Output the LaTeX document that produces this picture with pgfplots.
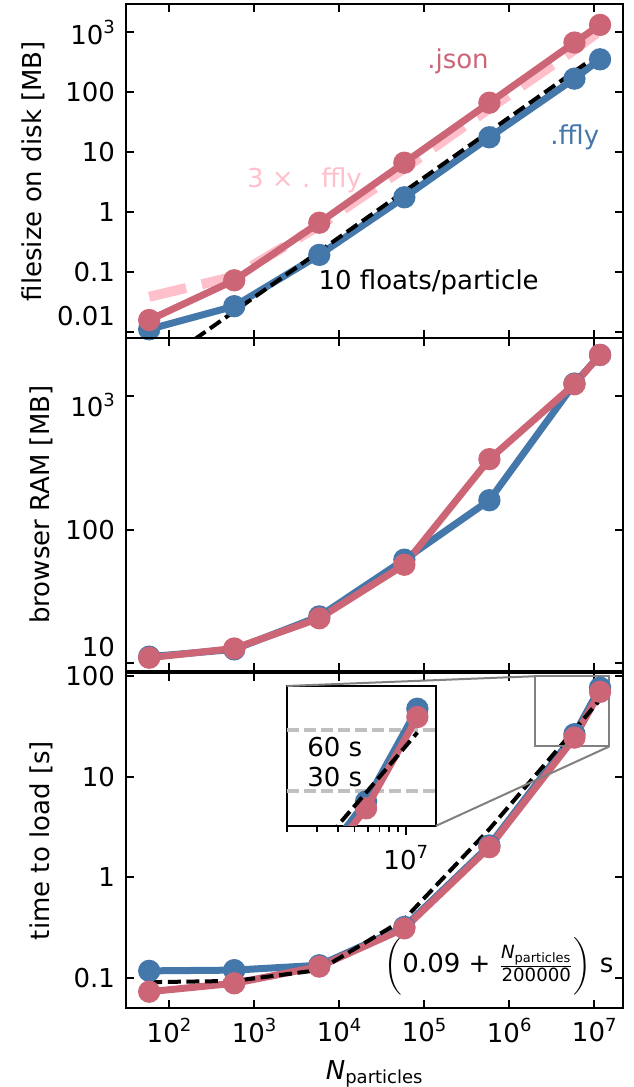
\documentclass[border=0pt]{standalone}
\usepackage{fontspec}
\setmainfont{DejaVu Sans}
\usepackage{amsmath}
\usepackage{pgfplots}
\pgfplotsset{compat=1.18}
\definecolor{cred}{HTML}{CC6677}
\definecolor{cblue}{HTML}{4477AA}
\definecolor{cpink}{HTML}{FFC0CB}
\definecolor{cgray}{HTML}{808080}
\definecolor{lgray}{HTML}{C0C0C0}
\newcommand{\pw}[1]{10\raisebox{5.3pt}{\fontsize{9}{9}\selectfont #1}}
\tikzset{
  myred/.style={cred, line width=3.5pt, mark=*, mark size=3.8pt, mark options={draw=none, fill=cred}},
  myblue/.style={cblue, line width=3.5pt, mark=*, mark size=3.8pt, mark options={draw=none, fill=cblue}},
  myblack/.style={black, line width=2pt, dash pattern=on 6.5pt off 2.8pt},
}
\begin{document}
\fontsize{13}{15.6}\selectfont
\begin{tikzpicture}
\useasboundingbox (0,0) rectangle (316.5pt,543.5pt);
% ---------------- top panel
\begin{axis}[scale only axis, width=248.5pt, anchor=south west,
  xmode=log, ymode=log, xmin=30.97, xmax=2.16e7,
  tick align=inside, xtick pos=both, ytick pos=both,
  xticklabel pos=left, yticklabel pos=left,
  major tick length=4pt,
  major tick style={line width=1pt, black},
  axis line style={line width=1pt},
  xminorticks=false, yminorticks=false,
  xtick={1e2,1e3,1e4,1e5,1e6,1e7},
  yticklabel style={inner sep=0pt, xshift=-5.2pt},
  ylabel style={at={(ticklabel cs:0.5,6pt)}, anchor=near ticklabel, inner sep=0pt},
  at={(62.85pt,374.35pt)}, height=167.15pt,
  ymin=7.94e-3, ymax=2965,
  ytick={0.01,0.1,1,10,100,1000},
  yticklabels={\raisebox{7.9pt}[\height][\depth]{0.01},0.1,1,10,100,\pw{3}},
  xticklabels={},
  ylabel={filesize on disk [MB]}]
\addplot[cpink, line width=5pt, dash pattern=on 19pt off 8pt] coordinates {
 (58.5,0.039) (585,0.085) (5850,0.6) (58500,5.4) (585000,54) (5850000,510) (11700000,1070)};
\addplot[myblue] coordinates {
 (58.5,0.0112) (585,0.0272) (5850,0.195) (58500,1.78) (585000,17.8) (5850000,169) (11700000,355)};
\addplot[myred] coordinates {
 (58.5,0.0160) (585,0.0735) (5850,0.67) (58500,6.7) (585000,67) (5850000,675) (11700000,1330)};
\addplot[myblack] coordinates {
 (58.5,0.00223) (585,0.0223) (5850,0.223) (58500,2.23) (585000,22.3) (5850000,223) (11700000,446)};
\node[cred] at (axis cs:2.5e5,324) {.json};
\node[cblue] at (axis cs:5.9e6,18) {.ffly};
\node[cpink] at (axis cs:3920,3.45) {3 × . ffly};
\node[black] at (axis cs:1.13e5,0.0676) {10 floats/particle};
\end{axis}
% ---------------- middle panel: left-only minor ticks
\begin{axis}[scale only axis, width=248.5pt, anchor=south west,
  xmode=log, ymode=log, xmin=30.97, xmax=2.16e7,
  at={(62.85pt,208pt)}, height=166.35pt, ymin=8.75, ymax=2705,
  axis line style={draw=none}, xtick=\empty, ytick=\empty,
  ytick pos=left, tick align=inside, minor tick length=2.5pt,
  minor tick style={line width=0.8pt, black},
  minor ytick={9,20,30,40,50,60,70,80,90,200,300,400,500,600,700,800,900,2000}]
\end{axis}
\begin{axis}[scale only axis, width=248.5pt, anchor=south west,
  xmode=log, ymode=log, xmin=30.97, xmax=2.16e7,
  tick align=inside, xtick pos=both, ytick pos=both,
  xticklabel pos=left, yticklabel pos=left,
  major tick length=4pt,
  major tick style={line width=1pt, black},
  axis line style={line width=1pt},
  xminorticks=false, yminorticks=false,
  xtick={1e2,1e3,1e4,1e5,1e6,1e7},
  yticklabel style={inner sep=0pt, xshift=-5.2pt},
  ylabel style={at={(ticklabel cs:0.5,6pt)}, anchor=near ticklabel, inner sep=0pt},
  at={(62.85pt,208pt)}, height=166.35pt,
  ymin=8.75, ymax=2705,
  ytick={10,100,1000},
  yticklabels={\raisebox{8pt}[\height][\depth]{10},100,\raisebox{-4.5pt}[\height][\depth]{\pw{3}}},
  xticklabels={},
  ylabel={browser RAM [MB]}]
\addplot[myblue] coordinates {
 (58.5,11.2) (585,12.7) (5850,22.4) (58500,59.6) (585000,166) (5850000,1240) (11700000,2030)};
\addplot[myred] coordinates {
 (58.5,11.0) (585,12.9) (5850,21.7) (58500,54.6) (585000,337) (5850000,1225) (11700000,2030)};
\end{axis}
% ---------------- bottom panel: left-only minor ticks
\begin{axis}[scale only axis, width=248.5pt, anchor=south west,
  xmode=log, ymode=log, xmin=30.97, xmax=2.16e7,
  at={(62.85pt,39.65pt)}, height=167.2pt, ymin=0.0503, ymax=107,
  axis line style={draw=none}, xtick=\empty, ytick=\empty,
  ytick pos=left, tick align=inside, minor tick length=2.5pt,
  minor tick style={line width=0.8pt, black},
  minor ytick={0.06,0.07,0.08,0.09,0.2,0.3,0.4,0.5,0.6,0.7,0.8,0.9,2,3,4,5,6,7,8,9,20,30,40,50,60,70,80,90}]
\end{axis}
\begin{axis}[scale only axis, width=248.5pt, anchor=south west,
  xmode=log, ymode=log, xmin=30.97, xmax=2.16e7,
  tick align=inside, xtick pos=both, ytick pos=both,
  xticklabel pos=left, yticklabel pos=left,
  major tick length=4pt,
  major tick style={line width=1pt, black},
  axis line style={line width=1pt},
  xminorticks=false, yminorticks=false,
  xtick={1e2,1e3,1e4,1e5,1e6,1e7},
  yticklabel style={inner sep=0pt, xshift=-5.2pt},
  xticklabel style={inner sep=0pt, yshift=-5pt},
  ylabel style={at={(ticklabel cs:0.5,6pt)}, anchor=near ticklabel, inner sep=0pt},
  xlabel style={at={(ticklabel cs:0.5,9pt)}, anchor=near ticklabel, inner sep=0pt},
  at={(62.85pt,39.65pt)}, height=167.2pt,
  ymin=0.0503, ymax=107,
  ytick={0.1,1,10,100},
  yticklabels={0.1,1,10,100},
  xticklabels={\pw{2},\pw{3},\pw{4},\pw{5},\pw{6},\pw{7}},
  ylabel={time to load [s]},
  xlabel={{\itshape N}\raisebox{-2pt}{\fontsize{9}{9}\selectfont particles}}]
\addplot[myblue] coordinates {
 (58.5,0.117) (585,0.119) (5850,0.133) (58500,0.32) (585000,2.07) (5850000,26.5) (11700000,77)};
\addplot[myred] coordinates {
 (58.5,0.0726) (585,0.088) (5850,0.129) (58500,0.31) (585000,1.99) (5850000,24.5) (11700000,70)};
\addplot[myblack] coordinates {
 (58.5,0.0903) (585,0.0929) (5850,0.1193) (58500,0.3825) (585000,3.015) (5850000,29.34) (11700000,58.59)};
\draw[cgray, line width=1pt] (axis cs:2e6,20) rectangle (axis cs:1.5e7,100);
\coordinate (bTL) at (axis cs:2e6,100);
\coordinate (bBR) at (axis cs:1.5e7,20);
\node at (axis cs:7.6e5,0.129) {$\bigg(\text{0.09 + }\frac{\text{\itshape N}_{\text{particles}}}{\text{200000}}\bigg)$ s};
\end{axis}
% ---------------- inset
\begin{axis}[name=inset, at={(143.35pt,130.5pt)}, anchor=south west, scale only axis,
  width=74.5pt, height=70pt, xmode=log, ymode=log,
  xmin=2e6, xmax=1.5e7, ymin=20, ymax=100,
  axis background/.style={fill=white},
  axis line style={line width=1pt},
  tick align=outside, xtick pos=left, ytick pos=left,
  xtick={1e7}, xticklabels={\pw{7}},
  minor xtick={2e6,3e6,4e6,5e6,6e6,7e6,8e6,9e6},
  ytick=\empty,
  minor ytick={20,30,40,50,60,70,80,90,100},
  major tick length=4.5pt, minor tick length=2.8pt,
  major tick style={line width=1pt, black},
  minor tick style={line width=0.8pt, black},
  xticklabel style={inner sep=0pt, yshift=-5pt},
  clip marker paths=true]
\addplot[lgray, line width=2pt, dash pattern=on 5.9pt off 2.6pt] coordinates {(2e6,60) (1.5e7,60)};
\addplot[lgray, line width=2pt, dash pattern=on 5.9pt off 2.6pt] coordinates {(2e6,30) (1.5e7,30)};
\addplot[myblue] coordinates {
 (585000,2.07) (5850000,26.5) (11700000,77)};
\addplot[myred] coordinates {
 (585000,1.99) (5850000,24.5) (11700000,70)};
\addplot[myblack] coordinates {
 (585000,3.015) (5850000,29.34) (11700000,58.59)};
\node[anchor=west] at (axis cs:2.34e6,49.4) {60 s};
\node[anchor=west] at (axis cs:2.34e6,35.3) {30 s};
\end{axis}
\draw[cgray, line width=1pt] (inset.north west) -- (bTL);
\draw[cgray, line width=1pt] (inset.south east) -- (bBR);
\end{tikzpicture}
\end{document}
